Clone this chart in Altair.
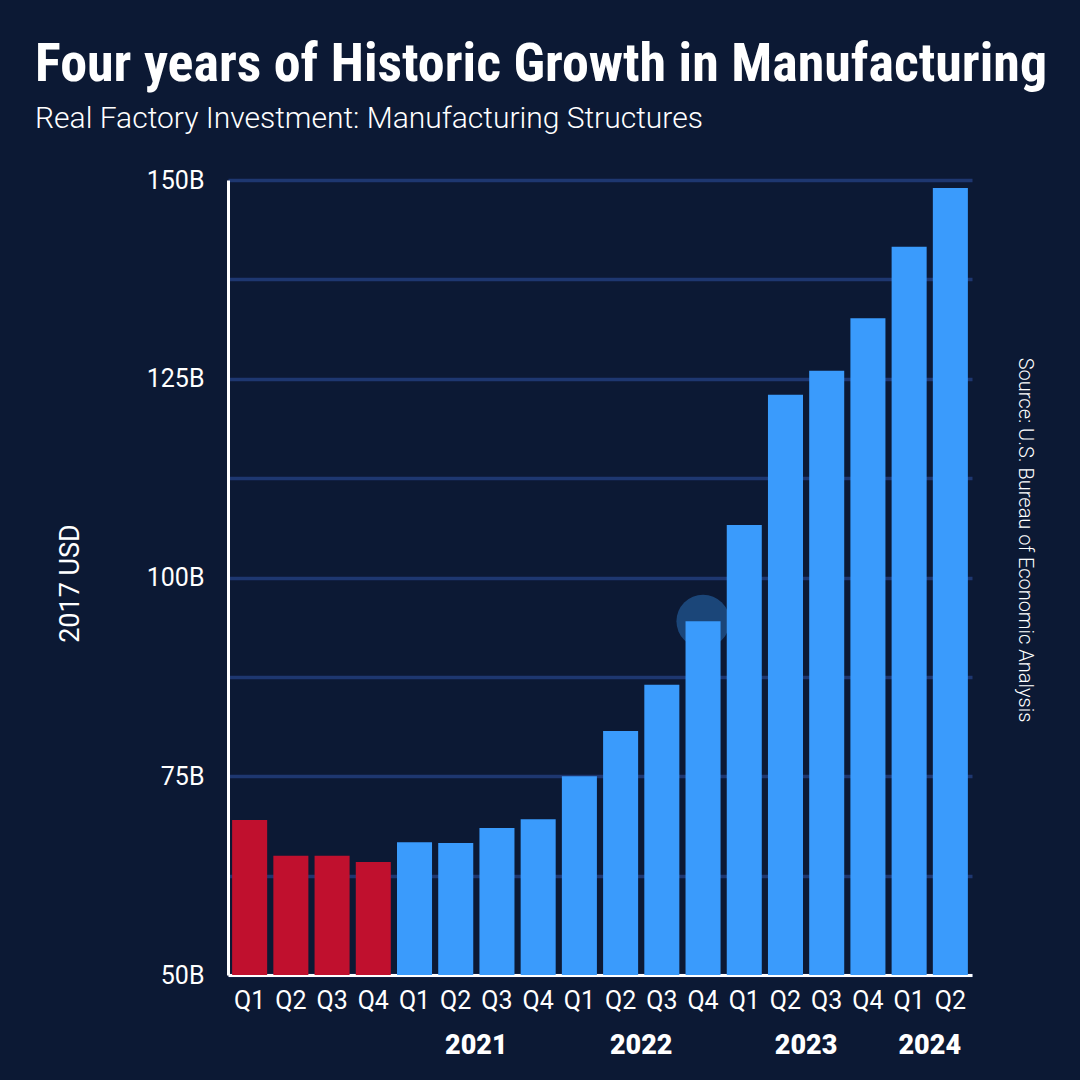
import altair as alt
import pandas as pd

# Quarterly real investment in manufacturing structures, billions of 2017 USD
years = [2020] * 4 + [2021] * 4 + [2022] * 4 + [2023] * 4 + [2024] * 2
quarters = ["Q1", "Q2", "Q3", "Q4"] * 4 + ["Q1", "Q2"]
values = [69.5, 65.0, 65.0, 64.2,
          66.7, 66.6, 68.5, 69.6,
          75.0, 80.7, 86.5, 94.5,
          106.6, 123.0, 126.0, 132.6,
          141.6, 149.0]
periods = ["pre", "pre", "pre", "pre"] + ["post"] * 14

# Year captions sit under the middle of each year's bars
year_labels = ["2021", "2022", "2023", "2024"]
year_anchor = ["2021 Q2", "2022 Q2", "2023 Q2", "2024 Q1"]

highlight_key = "2022 Q4"

BG = "#0c1934"
GRID = "#1e3770"
BLUE = "#3a9bfc"
RED = "#c0102e"

keys = [f"{y} {q}" for y, q in zip(years, quarters)]
df = pd.DataFrame({"key": keys, "year": years, "quarter": quarters,
                   "value": values, "period": periods})
years_df = pd.DataFrame({"key": year_anchor, "label": year_labels})
hl_df = df[df["key"] == highlight_key]
source_df = pd.DataFrame({"text": ["Source: U.S. Bureau of Economic Analysis"]})

FONT = "Roboto, Liberation Sans, sans-serif"

x_scale = alt.Scale(domain=keys, paddingInner=0.15, paddingOuter=0.1)
y_scale = alt.Scale(domain=[50, 150], nice=False, zero=False)
grid_values = [50, 62.5, 75, 87.5, 100, 112.5, 125, 137.5, 150]

x_enc = alt.X(
    "key:N", scale=x_scale, sort=keys, title=None,
    axis=alt.Axis(
        labelExpr="split(datum.label, ' ')[1]",
        labelAngle=0, labelAlign="center", labelBaseline="top",
        labelFontSize=25, labelColor="#ffffff", labelFont=FONT,
        labelFontWeight="normal", bandPosition=0.5,
        labelPadding=13, ticks=False, domainColor="#ffffff", domainWidth=3,
        grid=False,
    ),
)
y_enc = alt.Y(
    "value:Q", scale=y_scale, title="2017 USD",
    axis=alt.Axis(
        values=grid_values,
        labelExpr="datum.value % 25 == 0 ? datum.value + 'B' : ''",
        labelFontSize=25, labelColor="#ffffff", labelFont=FONT,
        labelFontWeight="normal",
        labelPadding=24, ticks=False,
        domainColor="#ffffff", domainWidth=3,
        grid=True, gridColor=GRID, gridWidth=3.5,
        titleColor="#ffffff", titleFont=FONT, titleFontSize=27,
        titleFontWeight="normal", titleAngle=-90,
        titleX=-158, titleY=403, titleAlign="center", titleBaseline="middle",
    ),
)

halo = alt.Chart(hl_df).mark_point(
    filled=True, size=2830, color=BLUE, opacity=0.35, shape="circle"
).encode(x=alt.X("key:N", scale=x_scale, sort=keys), y=alt.Y("value:Q", scale=y_scale))

bars = alt.Chart(df).mark_bar().encode(
    x=x_enc,
    y=y_enc,
    y2=alt.datum(50),
    color=alt.Color("period:N",
                    scale=alt.Scale(domain=["pre", "post"], range=[RED, BLUE]),
                    legend=None),
)

year_text = alt.Chart(years_df).mark_text(
    font=FONT, fontSize=27, fontWeight=900, color="#ffffff",
    dx=20.6, baseline="middle", align="center",
).encode(
    x=alt.X("key:N", scale=x_scale, sort=keys),
    y=alt.value(866),
    text="label:N",
)

source_text = alt.Chart(source_df).mark_text(
    font=FONT, fontSize=20, fontWeight=300, color="#ffffff", angle=90,
    align="center", baseline="middle",
).encode(x=alt.value(797), y=alt.value(360), text="text:N")

chart = alt.layer(halo, bars, year_text, source_text).properties(
    width=744,
    height=795,
    autosize=alt.AutoSizeParams(type="none"),
    padding={"left": 228, "top": 180, "right": 108, "bottom": 105},
    background=BG,
    title=alt.TitleParams(
        text="Four years of Historic Growth in Manufacturing",
        subtitle="Real Factory Investment: Manufacturing Structures",
        anchor="start", frame="group", dx=-193, offset=34,
        font="Liberation Sans Narrow, Roboto Condensed, Roboto, sans-serif",
        fontSize=54, fontWeight="bold", color="#ffffff",
        subtitleFont=FONT, subtitleFontSize=30, subtitleColor="#ffffff",
        subtitleFontWeight=300,
        subtitlePadding=12,
    ),
).configure_view(stroke=None)

chart.save("out.html", embed_options={"renderer": "svg", "actions": False})
